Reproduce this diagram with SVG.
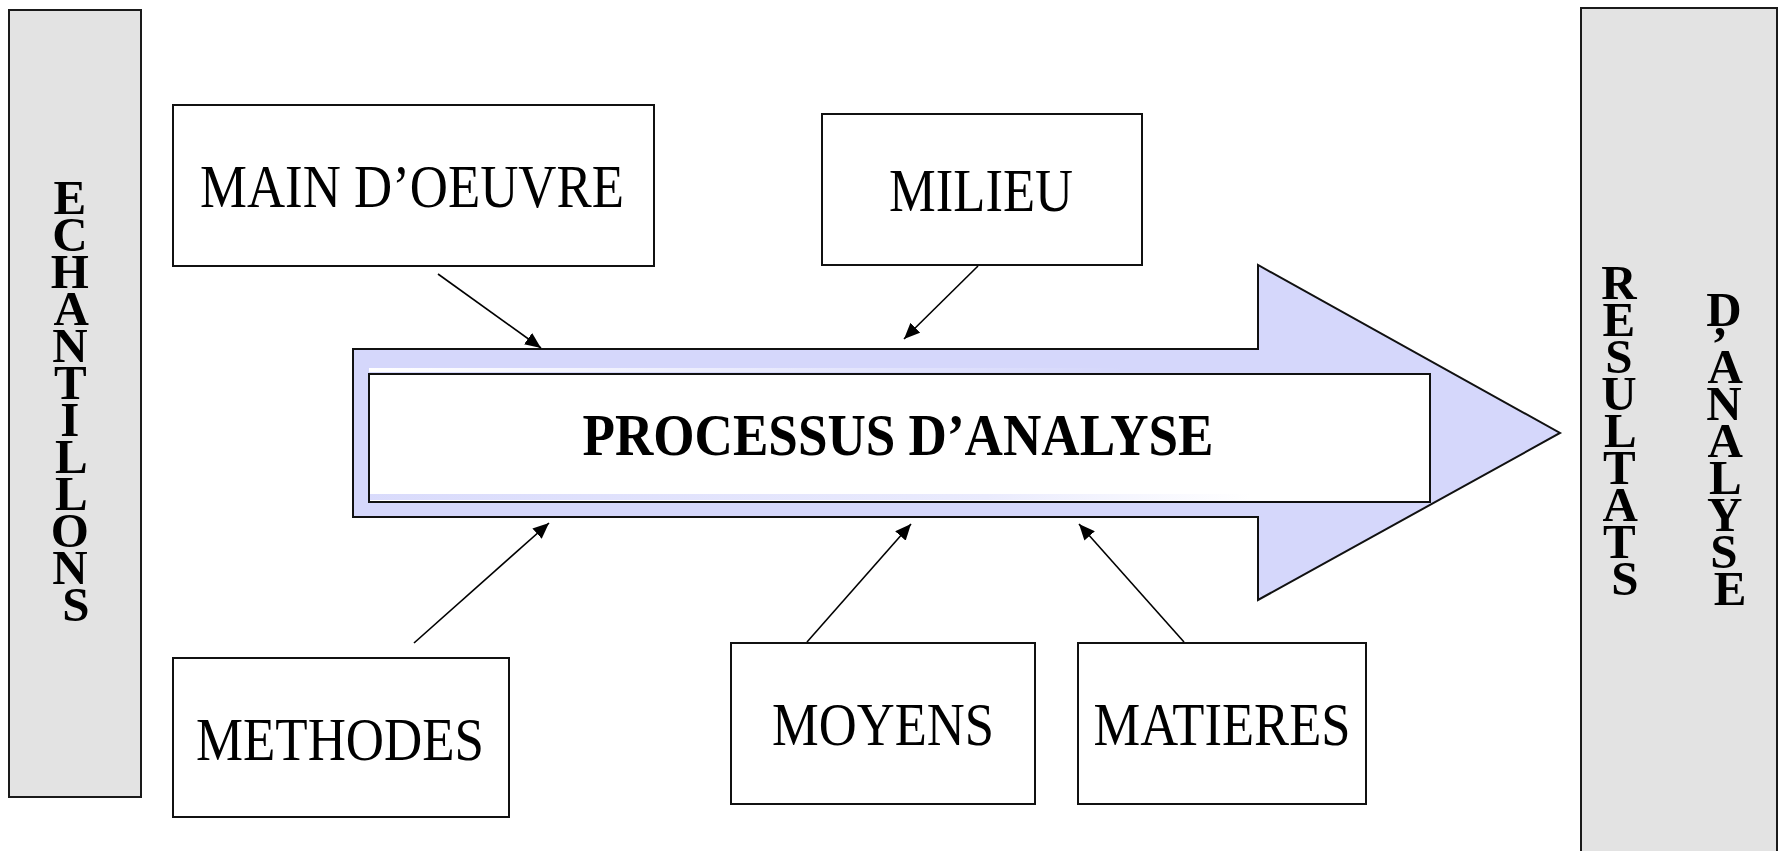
<svg xmlns="http://www.w3.org/2000/svg" width="1785" height="851" viewBox="0 0 1785 851">
  <defs>
    <style>
      .bg { fill: #ffffff; }
      .side { fill: #e3e3e3; stroke: #1a1a1a; stroke-width: 2; }
      .box { fill: #ffffff; stroke: #111111; stroke-width: 2; }
      .lbl { font-family: "Liberation Serif", "Times New Roman", serif; font-size: 62px; fill: #000000; text-anchor: middle; }
      .title { font-family: "Liberation Serif", "Times New Roman", serif; font-size: 60px; font-weight: bold; fill: #000000; text-anchor: middle; }
      .vert { font-family: "Liberation Serif", "Times New Roman", serif; font-size: 49px; font-weight: bold; fill: #000000; text-anchor: middle; }
      .arrow-body { fill: #d5d7fb; stroke: #111111; stroke-width: 2; }
      .inner { fill: #ffffff; stroke: #111111; stroke-width: 2; }
      .conn { stroke: #000000; stroke-width: 1.6; fill: none; marker-end: url(#head); }
    </style>
    <marker id="head" markerUnits="userSpaceOnUse" markerWidth="18" markerHeight="14" refX="16" refY="7" orient="auto">
      <path d="M0,0 L16,7 L0,14 Z" fill="#000000"/>
    </marker>
    <linearGradient id="gloss" x1="0" y1="0" x2="1" y2="0">
      <stop offset="0" stop-color="#ffffff" stop-opacity="1"/>
      <stop offset="1" stop-color="#ffffff" stop-opacity="0"/>
    </linearGradient>
    <linearGradient id="shade" x1="0" y1="0" x2="1" y2="0">
      <stop offset="0" stop-color="#d5d7fb" stop-opacity="0.9"/>
      <stop offset="0.7" stop-color="#d5d7fb" stop-opacity="0.5"/>
      <stop offset="1" stop-color="#d5d7fb" stop-opacity="0"/>
    </linearGradient>
  </defs>

  <rect class="bg" x="0" y="0" width="1785" height="851"/>

  <!-- input column -->
  <g id="echantillons">
    <rect class="side" x="9" y="10" width="132" height="787"/>
    <text class="vert">
      <tspan x="76" y="214">E</tspan>
      <tspan x="76" y="251">C</tspan>
      <tspan x="76" y="288">H</tspan>
      <tspan x="76" y="325">A</tspan>
      <tspan x="76" y="362">N</tspan>
      <tspan x="76" y="399">T</tspan>
      <tspan x="76" y="436">I</tspan>
      <tspan x="76" y="473">L</tspan>
      <tspan x="76" y="510">L</tspan>
      <tspan x="76" y="547">O</tspan>
      <tspan x="76" y="584">N</tspan>
      <tspan x="76" y="621">S</tspan>
    </text>
  </g>

  <!-- output column -->
  <g id="resultats">
    <rect class="side" x="1581" y="8" width="196" height="860"/>
    <text class="vert">
      <tspan x="1625" y="299">R</tspan>
      <tspan x="1625" y="336">E</tspan>
      <tspan x="1625" y="373">S</tspan>
      <tspan x="1625" y="410">U</tspan>
      <tspan x="1625" y="447">L</tspan>
      <tspan x="1625" y="484">T</tspan>
      <tspan x="1625" y="521">A</tspan>
      <tspan x="1625" y="558">T</tspan>
      <tspan x="1625" y="595">S</tspan>
    </text>
    <text class="vert">
      <tspan x="1730" y="326">D</tspan>
      <tspan x="1724" y="360">’</tspan>
      <tspan x="1730" y="383">A</tspan>
      <tspan x="1730" y="420">N</tspan>
      <tspan x="1730" y="457">A</tspan>
      <tspan x="1730" y="494">L</tspan>
      <tspan x="1730" y="531">Y</tspan>
      <tspan x="1730" y="568">S</tspan>
      <tspan x="1730" y="605">E</tspan>
    </text>
  </g>

  <!-- central process arrow -->
  <g id="processus">
    <polygon class="arrow-body" points="353,349 1258,349 1258,265 1560,433 1258,600 1258,517 353,517"/>
    <rect x="369" y="368" width="760" height="4" fill="url(#gloss)"/>
    <rect class="inner" x="369" y="374" width="1061" height="128"/>
    <rect x="370" y="494" width="880" height="6" fill="url(#shade)"/>
    <text class="title" x="898" y="455" textLength="631" lengthAdjust="spacingAndGlyphs">PROCESSUS D’ANALYSE</text>
  </g>

  <g id="main-oeuvre">
    <rect class="box" x="173" y="105" width="481" height="161"/>
    <text class="lbl" x="412" y="207" textLength="424" lengthAdjust="spacingAndGlyphs">MAIN D’OEUVRE</text>
  </g>

  <g id="milieu">
    <rect class="box" x="822" y="114" width="320" height="151"/>
    <text class="lbl" x="981" y="211" textLength="184" lengthAdjust="spacingAndGlyphs">MILIEU</text>
  </g>

  <g id="methodes">
    <rect class="box" x="173" y="658" width="336" height="159"/>
    <text class="lbl" x="340" y="760" textLength="288" lengthAdjust="spacingAndGlyphs">METHODES</text>
  </g>

  <g id="moyens">
    <rect class="box" x="731" y="643" width="304" height="161"/>
    <text class="lbl" x="883" y="745" textLength="222" lengthAdjust="spacingAndGlyphs">MOYENS</text>
  </g>

  <g id="matieres">
    <rect class="box" x="1078" y="643" width="288" height="161"/>
    <text class="lbl" x="1222" y="745" textLength="257" lengthAdjust="spacingAndGlyphs">MATIERES</text>
  </g>

  <!-- connectors feeding the process -->
  <g id="connectors">
    <line class="conn" x1="438" y1="274" x2="541" y2="348"/>
    <line class="conn" x1="978" y1="266" x2="904" y2="339"/>
    <line class="conn" x1="414" y1="643" x2="549" y2="523"/>
    <line class="conn" x1="807" y1="642" x2="911" y2="524"/>
    <line class="conn" x1="1184" y1="642" x2="1079" y2="524"/>
  </g>
</svg>
